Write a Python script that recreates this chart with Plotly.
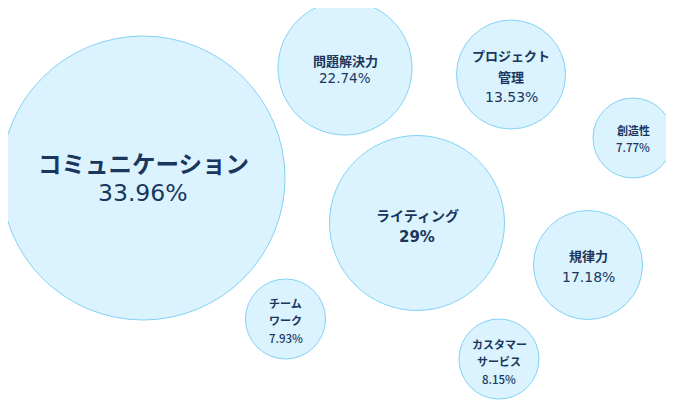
import plotly.graph_objects as go

# skills and shares (%)
skills = ['コミュニケーション', '問題解決力', 'プロジェクト<br>管理', '創造性',
          'ライティング', '規律力', 'チーム<br>ワーク', 'カスタマー<br>サービス']
shares = ['33.96%', '22.74%', '13.53%', '7.77%', '29%', '17.18%', '7.93%', '8.15%']

# packed bubble layout (pixel positions, y down) and radii
pos_x = [143, 345, 511, 633, 417, 588, 285.5, 499]
pos_y = [178, 68, 74.5, 138, 223, 265, 319, 359]
radius = [142, 67, 54.5, 40, 87.5, 54.5, 40, 40]

# text styling per bubble
name_px = [23.5, 13, 13, 11, 14, 13, 11, 11]
pct_px = [23.5, 13.5, 14, 11.5, 15, 14, 11.5, 11.5]
pct_family = ['DejaVu Sans', 'DejaVu Sans', 'DejaVu Sans', 'Noto Sans CJK JP',
              'DejaVu Sans', 'DejaVu Sans', 'Noto Sans CJK JP', 'Noto Sans CJK JP']
pct_weight = [400, 400, 400, 500, 700, 400, 500, 500]
line_gap = [30, 18, 21, 17, 22, 22, 17.5, 17.5]
y_shift = [0, 1, 1.5, 0.5, 3, 1, 1, 2]

fig = go.Figure()
fig.add_trace(go.Scatter(
    x=pos_x, y=pos_y,
    mode='markers',
    marker=dict(size=[2 * r for r in radius], sizemode='diameter',
                color='#daf3fe', line=dict(color='#82d2f5', width=1), opacity=1),
    hoverinfo='skip',
    cliponaxis=False,
    showlegend=False,
))

for i in range(len(skills)):
    lines = skills[i].split('<br>') + [shares[i]]
    n = len(lines)
    for k, t in enumerate(lines):
        if k == n - 1:
            f = dict(family=pct_family[i], size=pct_px[i], color='#1b365d', weight=pct_weight[i])
        else:
            f = dict(family='Noto Sans CJK JP', size=name_px[i], color='#1b365d', weight=700)
        fig.add_annotation(
            x=pos_x[i], y=pos_y[i] + y_shift[i] + (k - (n - 1) / 2) * line_gap[i],
            text=t, showarrow=False, xanchor='center', yanchor='middle', font=f,
        )

# page body has an 8px margin, so shift the ranges to keep pixel coordinates
fig.update_layout(
    width=674, height=400,
    margin=dict(l=0, r=0, t=0, b=0),
    paper_bgcolor='white', plot_bgcolor='white',
    xaxis=dict(range=[8, 682], visible=False, fixedrange=True),
    yaxis=dict(range=[408, 8], visible=False, fixedrange=True),
)

fig.write_html("out.html")
